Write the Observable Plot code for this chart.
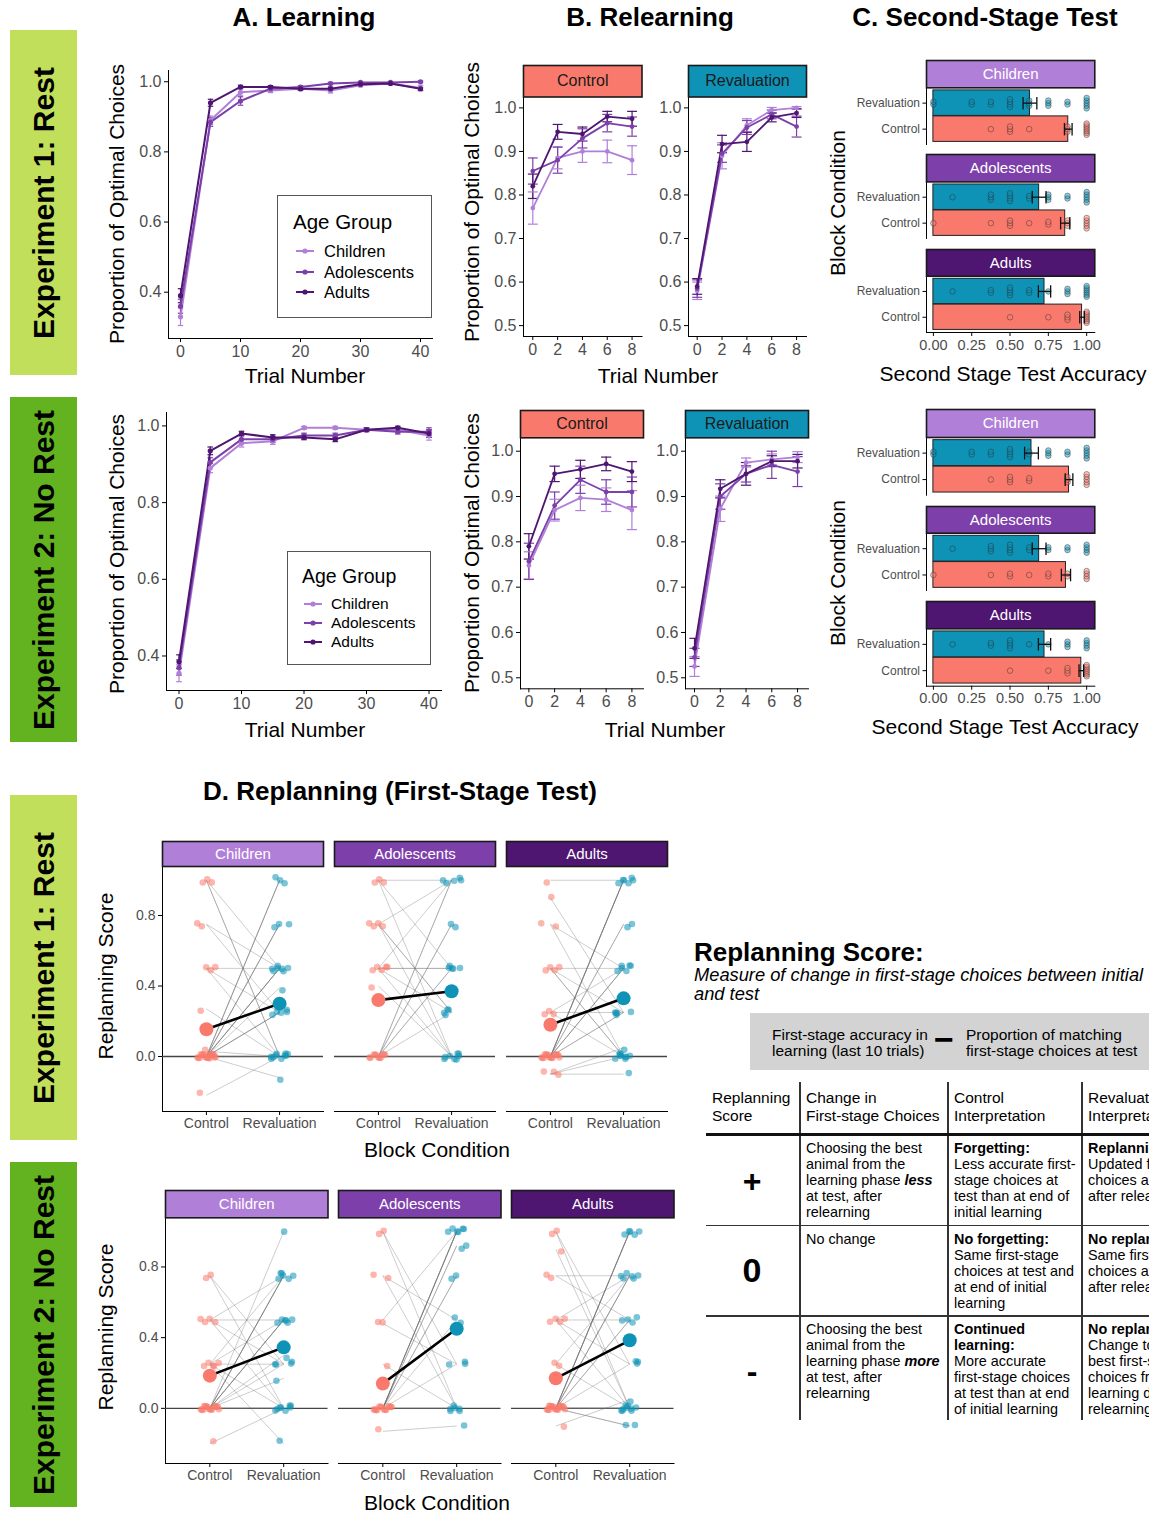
<!DOCTYPE html>
<html><head><meta charset="utf-8">
<script src="https://cdn.jsdelivr.net/npm/d3@7"></script>
<script src="https://cdn.jsdelivr.net/npm/@observablehq/plot@0.6"></script>
<style>
html,body{margin:0;padding:0;background:#fff;}
#root{position:relative;width:1149px;height:1513px;overflow:hidden;background:#fff;font-family:"Liberation Sans",Arial,Helvetica,sans-serif;color:#000;}
#root svg{overflow:visible;}
#root g[aria-label="x-axis tick label"], #root g[aria-label="y-axis tick label"]{fill:#4d4d4d;}
.cy g[aria-label="y-axis tick label"]{font-size:12px;}
.cell{position:absolute;font-size:14.4px;line-height:16px;white-space:nowrap;}
</style></head><body><div id="root"></div>
<script>
// ---------------- DATA ----------------
const ageGroups = ["Children", "Adolescents", "Adults"];
const ageColors = ["#b07fd7", "#7d40aa", "#4e1571"];
const conditions = ["Control", "Revaluation"];
const condColors = ["#f97a6c", "#0e93b7"];

// A. Learning
const learnTrials = [0, 5, 10, 15, 20, 25, 30, 35, 40];
const learnXTicks = [0, 10, 20, 30, 40];
const learnYTicks = [0.4, 0.6, 0.8, 1.0];
const learnE1Children = [0.33, 0.89, 0.97, 0.975, 0.98, 0.975, 0.99, 0.995, 0.982];
const learnE1ChildrenSE = [0.025, 0.012, 0.01, 0.006, 0.005, 0.007, 0.004, 0.003, 0.008];
const learnE1Adolescents = [0.36, 0.885, 0.945, 0.98, 0.985, 0.995, 0.998, 0.998, 1.0];
const learnE1AdolescentsSE = [0.02, 0.012, 0.012, 0.005, 0.004, 0.003, 0.002, 0.002, 0.002];
const learnE1Adults = [0.39, 0.94, 0.985, 0.985, 0.98, 0.98, 0.993, 0.995, 0.98];
const learnE1AdultsSE = [0.02, 0.01, 0.005, 0.004, 0.005, 0.005, 0.003, 0.003, 0.004];
const learnE2Children = [0.355, 0.89, 0.955, 0.96, 0.995, 0.995, 0.99, 0.99, 0.975];
const learnE2ChildrenSE = [0.022, 0.012, 0.01, 0.008, 0.004, 0.004, 0.005, 0.005, 0.012];
const learnE2Adolescents = [0.37, 0.905, 0.965, 0.965, 0.975, 0.975, 0.99, 0.985, 0.985];
const learnE2AdolescentsSE = [0.02, 0.012, 0.01, 0.008, 0.006, 0.006, 0.005, 0.006, 0.01];
const learnE2Adults = [0.385, 0.935, 0.98, 0.97, 0.97, 0.965, 0.99, 0.995, 0.98];
const learnE2AdultsSE = [0.018, 0.01, 0.006, 0.007, 0.006, 0.006, 0.004, 0.004, 0.01];

// B. Relearning
const relearnTrials = [0, 2, 4, 6, 8];
const relearnYTicks = [0.5, 0.6, 0.7, 0.8, 0.9, 1.0];
const relE1CtrlChildren = [0.77, 0.885, 0.90, 0.90, 0.88];
const relE1CtrlChildrenSE = [0.037, 0.025, 0.025, 0.026, 0.033];
const relE1CtrlAdolescents = [0.855, 0.88, 0.93, 0.965, 0.957];
const relE1CtrlAdolescentsSE = [0.03, 0.03, 0.022, 0.02, 0.022];
const relE1CtrlAdults = [0.82, 0.945, 0.94, 0.98, 0.975];
const relE1CtrlAdultsSE = [0.028, 0.017, 0.016, 0.012, 0.017];
const relE1RevChildren = [0.58, 0.89, 0.96, 0.995, 1.0];
const relE1RevChildrenSE = [0.02, 0.03, 0.015, 0.006, 0.003];
const relE1RevAdolescents = [0.585, 0.895, 0.955, 0.985, 0.957];
const relE1RevAdolescentsSE = [0.02, 0.02, 0.016, 0.01, 0.024];
const relE1RevAdults = [0.59, 0.917, 0.922, 0.978, 0.988];
const relE1RevAdultsSE = [0.018, 0.02, 0.022, 0.01, 0.01];
const relE2CtrlChildren = [0.748, 0.87, 0.897, 0.893, 0.87];
const relE2CtrlChildrenSE = [0.03, 0.024, 0.028, 0.026, 0.043];
const relE2CtrlAdolescents = [0.757, 0.88, 0.937, 0.91, 0.91];
const relE2CtrlAdolescentsSE = [0.04, 0.03, 0.03, 0.027, 0.033];
const relE2CtrlAdults = [0.79, 0.95, 0.96, 0.972, 0.955];
const relE2CtrlAdultsSE = [0.028, 0.017, 0.02, 0.015, 0.022];
const relE2RevChildren = [0.525, 0.873, 0.975, 0.982, 0.987];
const relE2RevChildrenSE = [0.022, 0.028, 0.01, 0.012, 0.012];
const relE2RevAdolescents = [0.545, 0.90, 0.95, 0.97, 0.955];
const relE2RevAdolescentsSE = [0.02, 0.028, 0.018, 0.03, 0.033];
const relE2RevAdults = [0.565, 0.917, 0.95, 0.978, 0.978];
const relE2RevAdultsSE = [0.022, 0.02, 0.025, 0.012, 0.015];

// C. Second-stage test accuracy
const accXTicks = [0, 0.25, 0.5, 0.75, 1];
const accE1CtrlMean = [0.88, 0.86, 0.97];
const accE1CtrlSE = [0.025, 0.03, 0.015];
const accE1RevMean = [0.63, 0.69, 0.725];
const accE1RevSE = [0.045, 0.045, 0.04];
const accE2CtrlMean = [0.885, 0.865, 0.965];
const accE2CtrlSE = [0.025, 0.03, 0.015];
const accE2RevMean = [0.64, 0.69, 0.725];
const accE2RevSE = [0.045, 0.045, 0.04];
const accE1ChildrenRev = [0,0,0.25,0.25,0.375,0.375,0.5,0.5,0.5,0.5,0.625,0.625,0.625,0.75,0.75,0.75,0.875,0.875,1,1,1,1,1];
const accE1ChildrenCtrl = [0.375,0.5,0.5,0.5,0.625,0.875,0.875,0.875,1,1,1,1,1,1,1];
const accE1AdolescentsRev = [0.125,0.375,0.375,0.375,0.5,0.5,0.5,0.5,0.625,0.625,0.75,0.75,0.75,0.875,0.875,1,1,1,1,1];
const accE1AdolescentsCtrl = [0,0.375,0.5,0.5,0.5,0.625,0.75,0.75,0.875,0.875,0.875,1,1,1,1,1];
const accE1AdultsRev = [0.125,0.375,0.375,0.5,0.5,0.5,0.5,0.625,0.625,0.75,0.875,0.875,0.875,1,1,1,1,1,1];
const accE1AdultsCtrl = [0.5,0.75,0.875,0.875,0.875,1,1,1,1,1,1,1];
const accE2ChildrenRev = [0,0,0.25,0.25,0.375,0.375,0.5,0.5,0.5,0.5,0.625,0.625,0.75,0.75,0.75,0.875,0.875,1,1,1,1,1];
const accE2ChildrenCtrl = [0.375,0.5,0.5,0.5,0.625,0.625,0.875,0.875,0.875,1,1,1,1,1];
const accE2AdolescentsRev = [0.125,0.375,0.375,0.375,0.5,0.5,0.5,0.5,0.625,0.625,0.75,0.75,0.875,0.875,1,1,1,1];
const accE2AdolescentsCtrl = [0,0.375,0.5,0.5,0.625,0.75,0.75,0.875,0.875,1,1,1,1];
const accE2AdultsRev = [0.125,0.375,0.375,0.5,0.5,0.5,0.5,0.625,0.75,0.875,0.875,0.875,1,1,1,1];
const accE2AdultsCtrl = [0.5,0.75,0.875,0.875,0.875,1,1,1,1,1,1,1];

// D. Replanning scores: [control, revaluation] per participant
const replanYTicks = [0, 0.4, 0.8];
const replanE1CtrlMean = [0.155, 0.32, 0.18];
const replanE1RevMean = [0.30, 0.37, 0.33];
const replanE2CtrlMean = [0.185, 0.14, 0.17];
const replanE2RevMean = [0.345, 0.45, 0.385];
const replanE1Children = [[1,0],[1,0],[1,0.5],[0.75,0.5],[0.75,0.25],[0.5,0.5],[0.5,0],[0.5,0.25],[0.27,0],[0.03,0],[0,1],[0,1],[0,1],[0,0.75],[0,0.75],[0,0.75],[0,0.5],[0,0.5],[0,0.5],[0,0.5],[0,0.39],[0,0.25],[0,0.25],[0,0.25],[0,0],[0,0],[0,0],[0,0],[0,-0.12],[-0.22,0]];
const replanE1Adolescents = [[1,1],[1,0],[1,0.5],[0.75,1],[0.75,0],[0.75,0.25],[0.75,0.25],[0.5,0.5],[0.5,0],[0.5,1],[0.5,0.25],[0.5,0.5],[0.4,0],[0,1],[0,1],[0,0.75],[0,0.75],[0,0.5],[0,0.25],[0,0],[0,0],[0,0],[0,0],[0,0.5]];
const replanE1Adults = [[1,1],[0.9,0.25],[0.75,0.5],[0.75,0],[0.5,0.5],[0.5,0.25],[0.5,0],[0.5,0],[0.25,0.5],[0.25,0.25],[0.25,0],[0,1],[0,1],[0,1],[0,1],[0,1],[0,0.75],[0,0.75],[0,0.5],[0,0.5],[0,0.5],[0,0.25],[0,0.25],[0,0],[0,0],[0,0],[0,0],[-0.1,0],[-0.1,0.05],[-0.1,-0.1]];
const replanE2Children = [[0.75,0.25],[0.75,0],[0.5,0.75],[0.5,0.5],[0.5,0],[0.5,0.25],[0.25,0.75],[0.25,0.5],[0.25,0],[0.25,0.25],[0.25,-0.2],[0,1],[0,0.75],[0,0.75],[0,0.75],[0,0.75],[0,0.5],[0,0.5],[0,0.5],[0,0.5],[0,0.3],[0,0.25],[0,0.17],[0,0],[0,0],[0,0],[0,0],[-0.2,0]];
const replanE2Adolescents = [[1,0.25],[1,0],[0.75,0.5],[0.75,0],[0.5,1],[0.48,0.25],[0.25,0],[0,1],[0,1],[0,1],[0,1],[0,1],[0,0.92],[0,0.92],[0,0.75],[0,0.75],[0,0.5],[0,0.25],[0,0],[0,0],[0,0],[-0.13,-0.1]];
const replanE2Adults = [[1,0.25],[1,0],[0.9,0],[0.75,0.75],[0.75,0.5],[0.5,0.5],[0.5,0.75],[0.5,0],[0.5,0.25],[0.25,0.75],[0.25,0],[0,1],[0,1],[0,1],[0,1],[0,1],[0,0.75],[0,0.75],[0,0.75],[0,0.5],[0,0.5],[0,0.25],[0,0],[0,0],[0,0],[0,0],[0,0],[0,-0.1],[-0.1,0.05],[0,-0.1]];

// ---------------- HELPERS ----------------
const FONT = '"Liberation Sans", Arial, Helvetica, sans-serif';
const root = document.getElementById("root");
function place(node, left, top, cls) {
  node.style.position = "absolute"; node.style.left = left + "px"; node.style.top = top + "px";
  if (cls) node.classList.add(cls);
  root.appendChild(node); return node;
}
function txt(s, x, y, o = {}) {
  const d = document.createElement("div");
  if (o.html) d.innerHTML = s; else d.textContent = s;
  d.style.cssText = `position:absolute;left:${x}px;top:${y}px;white-space:nowrap;font-size:${o.size || 16}px;` +
    `font-weight:${o.bold ? 700 : 400};font-style:${o.italic ? "italic" : "normal"};color:${o.color || "#000"};line-height:${o.lh || 1.15};`;
  const tx = o.align === "left" ? "0" : "-50%";
  d.style.transform = `translate(${tx},-50%)` + (o.rotate ? ` rotate(${o.rotate}deg)` : "");
  root.appendChild(d); return d;
}
function rect(x, y, w, h, bg, extra = "") {
  const d = document.createElement("div");
  d.style.cssText = `position:absolute;left:${x}px;top:${y}px;width:${w}px;height:${h}px;background:${bg};${extra}`;
  root.appendChild(d); return d;
}
const baseStyle = size => ({fontFamily: FONT, fontSize: size + "px", background: "transparent", overflow: "visible", color: "#000"});

// ---------------- A: Learning ----------------
function learningPanel(series, f) {
  const data = [];
  series.forEach((s, gi) => learnTrials.forEach((t, i) => data.push({g: ageGroups[gi], t, v: s[0][i], se: s[1][i]})));
  const ml = 62, mr = 14, mt = 10, mb = 32;
  const svg = Plot.plot({
    width: f.w + ml + mr, height: f.h + mt + mb,
    marginLeft: ml, marginRight: mr, marginTop: mt, marginBottom: mb,
    style: baseStyle(16),
    x: {domain: [-2, 42], ticks: learnXTicks, tickSize: 4, tickPadding: 3, line: true, label: null},
    y: {domain: f.yd, ticks: learnYTicks, tickFormat: d3.format(".1f"), tickSize: 4, tickPadding: 3, line: true, label: null},
    color: {domain: ageGroups, range: ageColors},
    marks: [
      Plot.ruleX(data, {x: "t", y1: d => d.v - d.se, y2: d => d.v + d.se, stroke: "g", strokeWidth: 1.2}),
      Plot.link(data, {x1: d => d.t - 0.45, x2: d => d.t + 0.45, y1: d => d.v - d.se, y2: d => d.v - d.se, stroke: "g", strokeWidth: 1.2}),
      Plot.link(data, {x1: d => d.t - 0.45, x2: d => d.t + 0.45, y1: d => d.v + d.se, y2: d => d.v + d.se, stroke: "g", strokeWidth: 1.2}),
      Plot.line(data, {x: "t", y: "v", stroke: "g", strokeWidth: 2}),
      Plot.dot(data, {x: "t", y: "v", fill: "g", r: 2.6})
    ]
  });
  place(svg, f.left - ml, f.top - mt);
}
function ageLegend(x, y, w, h, o) {
  rect(x, y, w, h, "#fff", "border:1px solid #555;box-sizing:border-box;");
  txt("Age Group", x + o.tx, o.ty, {size: o.ts, align: "left"});
  ageGroups.forEach((g, i) => {
    const ns = "http://www.w3.org/2000/svg";
    const s = document.createElementNS(ns, "svg");
    s.setAttribute("width", 20); s.setAttribute("height", 8);
    s.innerHTML = `<line x1="1" y1="4" x2="19" y2="4" stroke="${ageColors[i]}" stroke-width="2"/><circle cx="10" cy="4" r="2.6" fill="${ageColors[i]}"/>`;
    place(s, x + o.sx, o.iy[i] - 4);
    txt(g, x + o.lx, o.iy[i], {size: o.ls, align: "left"});
  });
}

learningPanel([[learnE1Children, learnE1ChildrenSE], [learnE1Adolescents, learnE1AdolescentsSE], [learnE1Adults, learnE1AdultsSE]],
  {left: 168, top: 70, w: 264, h: 268, yd: [0.268, 1.032]});
learningPanel([[learnE2Children, learnE2ChildrenSE], [learnE2Adolescents, learnE2AdolescentsSE], [learnE2Adults, learnE2AdultsSE]],
  {left: 165.5, top: 411.5, w: 275, h: 278, yd: [0.31, 1.035]});
ageLegend(277, 195, 155, 123, {tx: 16, ty: 222, ts: 20.5, sx: 18, lx: 47, ls: 16.5, iy: [251, 272, 292]});
ageLegend(287, 551, 144, 114, {tx: 15, ty: 576, ts: 19.5, sx: 16, lx: 44, ls: 15.5, iy: [604, 623, 642]});

// ---------------- B: Relearning ----------------
function relearnPanel(series, ci, f) {
  const data = [];
  series.forEach((s, gi) => relearnTrials.forEach((t, i) => data.push({g: ageGroups[gi], t, v: s[0][i], se: s[1][i]})));
  const ml = 42, mr = 4, mt = f.strip, mb = 32;
  const cap = 0.4;
  const svg = Plot.plot({
    width: f.w + ml + mr, height: f.h + mt + mb,
    marginLeft: ml, marginRight: mr, marginTop: mt, marginBottom: mb,
    style: baseStyle(16),
    x: {domain: f.xd, ticks: relearnTrials, tickSize: 4, tickPadding: 3, line: true, label: null},
    y: {domain: f.yd, ticks: relearnYTicks, tickFormat: d3.format(".1f"), tickSize: 4, tickPadding: 3, line: true, label: null},
    color: {domain: ageGroups, range: ageColors},
    marks: [
      Plot.frame({fill: condColors[ci], stroke: "#1a1a1a", strokeWidth: 1.6, insetTop: -f.strip, insetBottom: f.h}),
      Plot.text([conditions[ci]], {text: d => d, frameAnchor: "top", lineAnchor: "middle", dy: -f.strip / 2, fill: "#1a1a1a", fontSize: 16}),
      Plot.ruleX(data, {x: "t", y1: d => d.v - d.se, y2: d => d.v + d.se, stroke: "g", strokeWidth: 1.2}),
      Plot.link(data, {x1: d => d.t - cap, x2: d => d.t + cap, y1: d => d.v - d.se, y2: d => d.v - d.se, stroke: "g", strokeWidth: 1.2}),
      Plot.link(data, {x1: d => d.t - cap, x2: d => d.t + cap, y1: d => d.v + d.se, y2: d => d.v + d.se, stroke: "g", strokeWidth: 1.2}),
      Plot.line(data, {x: "t", y: "v", stroke: "g", strokeWidth: 1.8}),
      Plot.dot(data, {x: "t", y: "v", fill: "g", r: 2.4})
    ]
  });
  place(svg, f.left - ml, f.top - mt);
}
relearnPanel([[relE1CtrlChildren, relE1CtrlChildrenSE], [relE1CtrlAdolescents, relE1CtrlAdolescentsSE], [relE1CtrlAdults, relE1CtrlAdultsSE]], 0,
  {left: 523, top: 96.5, w: 118.5, h: 239.5, strip: 31.5, xd: [-0.75, 8.8], yd: [0.475, 1.025]});
relearnPanel([[relE1RevChildren, relE1RevChildrenSE], [relE1RevAdolescents, relE1RevAdolescentsSE], [relE1RevAdults, relE1RevAdultsSE]], 1,
  {left: 688, top: 96.5, w: 118, h: 239.5, strip: 31.5, xd: [-0.7, 8.8], yd: [0.475, 1.025]});
relearnPanel([[relE2CtrlChildren, relE2CtrlChildrenSE], [relE2CtrlAdolescents, relE2CtrlAdolescentsSE], [relE2CtrlAdults, relE2CtrlAdultsSE]], 0,
  {left: 520, top: 437.3, w: 123, h: 251, strip: 27.3, xd: [-0.65, 8.9], yd: [0.4757, 1.0296]});
relearnPanel([[relE2RevChildren, relE2RevChildrenSE], [relE2RevAdolescents, relE2RevAdolescentsSE], [relE2RevAdults, relE2RevAdultsSE]], 1,
  {left: 685.3, top: 437.3, w: 123, h: 251, strip: 27.3, xd: [-0.7, 8.85], yd: [0.4757, 1.0296]});

// ---------------- C: Second-stage test ----------------
function accPanel(gi, ctrl, rev, f) {
  const rows = [{c: 0, row: 0, mean: ctrl[0], se: ctrl[1], pts: ctrl[2]}, {c: 1, row: 1, mean: rev[0], se: rev[1], pts: rev[2]}];
  const pts = [];
  rows.forEach(r => {
    const counts = d3.rollup(r.pts, v => v.length, d => d);
    const seen = new Map();
    r.pts.forEach(v => {
      const n = counts.get(v), k = seen.get(v) || 0; seen.set(v, k + 1);
      pts.push({c: r.c, v, y: r.row + (k - (n - 1) / 2) * Math.min(0.1, 0.5 / n)});
    });
  });
  const ml = 100, mr = 4, mt = f.strip, mb = f.showX ? 32 : 2;
  const svg = Plot.plot({
    width: f.w + ml + mr, height: f.h + mt + mb,
    marginLeft: ml, marginRight: mr, marginTop: mt, marginBottom: mb,
    style: baseStyle(14.5),
    x: f.showX ? {domain: [-0.045, 1.053], ticks: accXTicks, tickFormat: d3.format(".2f"), tickSize: 4, tickPadding: 3, line: true, label: null}
               : {domain: [-0.045, 1.053], axis: null},
    y: {domain: [-0.59, 1.59], ticks: [0, 1], tickFormat: d => conditions[d], tickSize: 3.5, tickPadding: 3, line: true, label: null},
    color: {type: "ordinal", domain: [0, 1], range: condColors},
    marks: [
      Plot.frame({fill: ageColors[gi], stroke: "#1a1a1a", strokeWidth: 1.6, insetTop: -f.strip, insetBottom: f.h}),
      Plot.text([ageGroups[gi]], {text: d => d, frameAnchor: "top", lineAnchor: "middle", dy: -f.strip / 2, fill: "#fff", fontSize: 15}),
      Plot.rectX(rows, {x: "mean", y1: d => d.row - 0.49, y2: d => d.row + 0.49, fill: "c", stroke: "#222", strokeWidth: 1}),
      Plot.dot(pts, {x: "v", y: "y", r: 2.8, fill: "c", fillOpacity: 0.45, stroke: "#2b2b2b", strokeOpacity: 0.55, strokeWidth: 0.8}),
      Plot.link(rows, {x1: d => d.mean - d.se, x2: d => d.mean + d.se, y1: "row", y2: "row", stroke: "#111", strokeWidth: 1.3}),
      Plot.link(rows, {x1: d => d.mean - d.se, x2: d => d.mean - d.se, y1: d => d.row - 0.24, y2: d => d.row + 0.24, stroke: "#111", strokeWidth: 1.3}),
      Plot.link(rows, {x1: d => d.mean + d.se, x2: d => d.mean + d.se, y1: d => d.row - 0.24, y2: d => d.row + 0.24, stroke: "#111", strokeWidth: 1.3})
    ]
  });
  place(svg, f.left - ml, f.top - mt, "cy");
}
const accE1Pts = [[accE1ChildrenCtrl, accE1ChildrenRev], [accE1AdolescentsCtrl, accE1AdolescentsRev], [accE1AdultsCtrl, accE1AdultsRev]];
const accE2Pts = [[accE2ChildrenCtrl, accE2ChildrenRev], [accE2AdolescentsCtrl, accE2AdolescentsRev], [accE2AdultsCtrl, accE2AdultsRev]];
const cTop1 = [[60, 87.3, 56.7], [154.3, 181.7, 56.6], [249.3, 276, 56.3]];
const cTop2 = [[409.3, 437.3, 57.7], [506, 532.7, 57.3], [601, 628.3, 57.4]];
ageGroups.forEach((g, gi) => {
  accPanel(gi, [accE1CtrlMean[gi], accE1CtrlSE[gi], accE1Pts[gi][0]], [accE1RevMean[gi], accE1RevSE[gi], accE1Pts[gi][1]],
    {left: 925.7, top: cTop1[gi][1], w: 168.3, h: cTop1[gi][2], strip: cTop1[gi][1] - cTop1[gi][0], showX: gi === 2});
  accPanel(gi, [accE2CtrlMean[gi], accE2CtrlSE[gi], accE2Pts[gi][0]], [accE2RevMean[gi], accE2RevSE[gi], accE2Pts[gi][1]],
    {left: 925.7, top: cTop2[gi][1], w: 168.3, h: cTop2[gi][2], strip: cTop2[gi][1] - cTop2[gi][0], showX: gi === 2});
});

// ---------------- D: Replanning ----------------
function replanPanel(gi, pairs, means, f) {
  const pts = [];
  pairs.forEach(p => { pts.push({c: 0, v: p[0]}); pts.push({c: 1, v: p[1]}); });
  pts.forEach((d, k) => { d.jx = (((k * 0.618034 + 0.31) % 1) - 0.5) * 0.26; d.jy = (((k * 0.754877 + 0.13) % 1) - 0.5) * 0.035; });
  const meanData = means.map((m, c) => ({c, v: m}));
  const ml = 50, mr = 2, mt = f.strip, mb = 28;
  const svg = Plot.plot({
    width: f.w + ml + mr, height: f.h + mt + mb,
    marginLeft: ml, marginRight: mr, marginTop: mt, marginBottom: mb,
    style: baseStyle(14),
    x: {domain: [-0.6, 1.6], ticks: [0, 1], tickFormat: d => conditions[d], tickSize: 4, tickPadding: 3, line: true, label: null},
    y: f.showY ? {domain: [-0.312, 1.078], ticks: replanYTicks, tickFormat: d3.format(".1f"), tickSize: 4, tickPadding: 3, line: true, label: null}
               : {domain: [-0.312, 1.078], axis: null},
    color: {type: "ordinal", domain: [0, 1], range: condColors},
    marks: [
      Plot.frame({fill: ageColors[gi], stroke: "#1a1a1a", strokeWidth: 1.6, insetTop: -f.strip, insetBottom: f.h}),
      Plot.text([ageGroups[gi]], {text: d => d, frameAnchor: "top", lineAnchor: "middle", dy: -f.strip / 2, fill: "#fff", fontSize: 15}),
      Plot.ruleY([0], {stroke: "#444", strokeWidth: 1.3}),
      Plot.link(pairs, {x1: () => 0, x2: () => 1, y1: d => d[0], y2: d => d[1], stroke: "#6a6a6a", strokeOpacity: 0.42, strokeWidth: 0.8}),
      Plot.dot(pts, {x: d => d.c + d.jx, y: d => d.v + d.jy, r: 3.3, fill: "c", fillOpacity: 0.55}),
      Plot.line(meanData, {x: "c", y: "v", stroke: "#000", strokeWidth: 2.6}),
      Plot.dot(meanData, {x: "c", y: "v", r: 7, fill: "c"})
    ]
  });
  place(svg, f.left - ml, f.top - mt);
}
const replanE1 = [replanE1Children, replanE1Adolescents, replanE1Adults];
const replanE2 = [replanE2Children, replanE2Adolescents, replanE2Adults];
const dLeft1 = [162, 334, 506], dLeft2 = [165, 338, 511];
ageGroups.forEach((g, gi) => {
  replanPanel(gi, replanE1[gi], [replanE1CtrlMean[gi], replanE1RevMean[gi]], {left: dLeft1[gi], top: 866, w: 161, h: 245, strip: 25, showY: gi === 0});
  replanPanel(gi, replanE2[gi], [replanE2CtrlMean[gi], replanE2RevMean[gi]], {left: dLeft2[gi], top: 1217.3, w: 162.5, h: 245.7, strip: 27.3, showY: gi === 0});
});

// ---------------- Titles, axis titles, side bars ----------------
const lightGreen = "#c2df5b", darkGreen = "#63b21f";
[[30, 345, lightGreen, "Experiment 1: Rest"], [397, 345, darkGreen, "Experiment 2: No Rest"],
 [795, 345, lightGreen, "Experiment 1: Rest"], [1162, 345, darkGreen, "Experiment 2: No Rest"]].forEach(([y, h, c, s]) => {
  rect(10, y, 66.5, h, c);
  txt(s, 43.5, y + h / 2, {size: 30, bold: true, rotate: -90});
});
txt("A. Learning", 304, 18, {size: 26, bold: true});
txt("B. Relearning", 650, 18, {size: 26, bold: true});
txt("C. Second-Stage Test", 985, 18, {size: 26, bold: true});
txt("D. Replanning (First-Stage Test)", 400, 792, {size: 26, bold: true});

const AX = 21;
txt("Proportion of Optimal Choices", 117, 204, {size: AX, rotate: -90});
txt("Proportion of Optimal Choices", 117, 554, {size: AX, rotate: -90});
txt("Trial Number", 305, 376, {size: AX});
txt("Trial Number", 305, 730, {size: AX});
txt("Proportion of Optimal Choices", 472, 202, {size: AX, rotate: -90});
txt("Proportion of Optimal Choices", 472, 553, {size: AX, rotate: -90});
txt("Trial Number", 658, 376, {size: AX});
txt("Trial Number", 665, 730, {size: AX});
txt("Block Condition", 838, 203, {size: AX, rotate: -90});
txt("Block Condition", 838, 573, {size: AX, rotate: -90});
txt("Second Stage Test Accuracy", 1013, 374, {size: AX});
txt("Second Stage Test Accuracy", 1005, 727, {size: AX});
txt("Replanning Score", 106, 976, {size: AX, rotate: -90});
txt("Replanning Score", 106, 1327, {size: AX, rotate: -90});
txt("Block Condition", 437, 1150, {size: AX});
txt("Block Condition", 437, 1503, {size: AX});

// ---------------- Replanning score explanation table ----------------
txt("Replanning Score:", 694, 953, {size: 26, bold: true, align: "left"});
txt("Measure of change in first-stage choices between initial", 694, 975, {size: 18.3, italic: true, align: "left"});
txt("and test", 694, 994, {size: 18.3, italic: true, align: "left"});
rect(750, 1013, 420, 57, "#d3d3d3");
txt("First-stage accuracy in<br>learning (last 10 trials)", 772, 1043, {size: 15.5, align: "left", html: true, lh: 1.05});
txt("−", 944, 1040, {size: 34, bold: true});
txt("Proportion of matching<br>first-stage choices at test", 966, 1043, {size: 15.5, align: "left", html: true, lh: 1.05});

[800, 948, 1082].forEach(x => rect(x - 0.75, 1082, 1.5, 338, "#333"));
rect(706, 1132.5, 460, 3.5, "#111");
rect(706, 1224.5, 460, 1.5, "#333");
rect(706, 1315, 460, 1.5, "#333");

const headerCells = [[712, "Replanning<br>Score"], [806, "Change in<br>First-stage Choices"], [954, "Control<br>Interpretation"], [1088, "Revaluation<br>Interpretation"]];
headerCells.forEach(([x, s]) => { const d = document.createElement("div"); d.className = "cell"; d.style.cssText += `left:${x}px;top:1089px;font-size:15.5px;line-height:18px;`; d.innerHTML = s; root.appendChild(d); });
const rowTops = [1140, 1231, 1321];
const rowSymbols = ["+", "0", "-"];
const rowSymbolY = [1181, 1271, 1371];
const rowCells = [
  ["Choosing the best<br>animal from the<br>learning phase <b><i>less</i></b><br>at test, after<br>relearning",
   "<b>Forgetting:</b><br>Less accurate first-<br>stage choices at<br>test than at end of<br>initial learning",
   "<b>Replanning:</b><br>Updated first-stage<br>choices at test<br>after relearning"],
  ["No change",
   "<b>No forgetting:</b><br>Same first-stage<br>choices at test and<br>at end of initial<br>learning",
   "<b>No replanning:</b><br>Same first-stage<br>choices at test<br>after relearning"],
  ["Choosing the best<br>animal from the<br>learning phase <b><i>more</i></b><br>at test, after<br>relearning",
   "<b>Continued<br>learning:</b><br>More accurate<br>first-stage choices<br>at test than at end<br>of initial learning",
   "<b>No replanning:</b><br>Change to<br>best first-stage<br>choices from<br>learning during<br>relearning"]
];
rowCells.forEach((cells, r) => {
  txt(rowSymbols[r], 752, rowSymbolY[r], {size: r === 1 ? 34 : 32, bold: true});
  [806, 954, 1088].forEach((x, c) => {
    const d = document.createElement("div"); d.className = "cell";
    d.style.left = x + "px"; d.style.top = rowTops[r] + "px"; d.innerHTML = cells[c]; root.appendChild(d);
  });
});
</script></body></html>
